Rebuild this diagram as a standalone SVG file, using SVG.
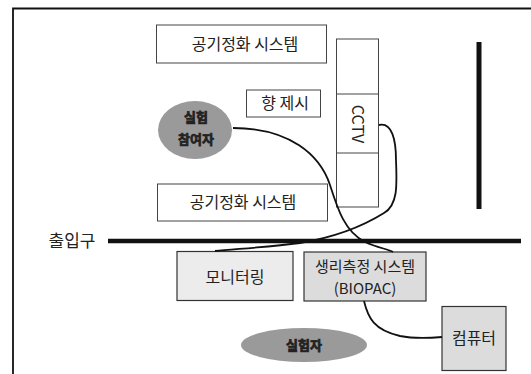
<svg xmlns="http://www.w3.org/2000/svg" width="531" height="374" viewBox="0 0 531 374">
<style>
.box{fill:#fff;stroke:#444;stroke-width:1}
.shade{fill:#ececec;stroke:#333;stroke-width:1.2}
.dark{fill:#dcdcdc;stroke:#333;stroke-width:1.2}
.t{font-family:"Noto Sans CJK KR","Liberation Sans",sans-serif;font-size:16px;fill:#222;text-anchor:middle}
.b{font-family:"Noto Sans CJK KR","Liberation Sans",sans-serif;font-size:13px;font-weight:bold;fill:#222;stroke:#222;stroke-width:0.7;text-anchor:middle}
.ell{fill:#9a9a9a}
.wire{fill:none;stroke:#111;stroke-width:1.8}
</style>
<rect width="531" height="374" fill="#fff"/>
<g id="frame">
<path d="M13 374 V8.5 H531" fill="none" stroke="#111" stroke-width="1.8"/>
</g>
<g id="walls">
<line x1="108" y1="241" x2="521" y2="241" stroke="#111" stroke-width="4.5"/>
<line x1="479" y1="42" x2="479" y2="209" stroke="#111" stroke-width="5"/>
<text class="t" x="72" y="247" style="font-size:17px">출입구</text>
</g>
<g id="air-top">
<rect class="box" x="156.5" y="25" width="170" height="38"/>
<text class="t" x="245" y="50">공기정화 시스템</text>
</g>
<g id="cctv">
<rect class="box" x="336.5" y="39" width="42" height="168"/>
<line x1="336.5" y1="94" x2="378.5" y2="94" stroke="#444"/>
<line x1="336.5" y1="153" x2="378.5" y2="153" stroke="#444"/>
<text class="t" transform="translate(351.5 124) rotate(90)" x="0" y="0">CCTV</text>
</g>
<g id="scent">
<rect class="box" x="246.5" y="90" width="74" height="27"/>
<text class="t" x="285" y="109">향 제시</text>
</g>
<g id="participant">
<ellipse class="ell" cx="195" cy="130" rx="37" ry="29"/>
<text class="b" x="196" y="122">실험</text>
<text class="b" x="196" y="144">참여자</text>
</g>
<g id="air-bottom">
<rect class="box" x="157.5" y="184" width="170" height="37"/>
<text class="t" x="243" y="208">공기정화 시스템</text>
</g>
<g id="monitoring">
<rect class="shade" x="177" y="251.5" width="116" height="49"/>
<text class="t" x="235" y="283">모니터링</text>
</g>
<g id="biopac">
<rect class="dark" x="304" y="252" width="122" height="49"/>
<text class="t" x="365" y="272" style="font-size:15px">생리측정 시스템</text>
<text class="t" x="365" y="294" style="font-size:15px">(BIOPAC)</text>
</g>
<g id="computer">
<rect class="dark" x="442" y="306.5" width="64" height="64"/>
<text class="t" x="474" y="344">컴퓨터</text>
</g>
<g id="experimenter">
<ellipse class="ell" cx="304" cy="345" rx="63" ry="17"/>
<text class="b" x="304" y="350">실험자</text>
</g>
<g id="connectors">
<path class="wire" d="M233 128 C290 128 320 155 330 185 C338 210 345 232 365 242 C378 248 388 249 393 252"/>
<path class="wire" d="M379 125 C392 122 396 140 396 160 C397 185 398 205 384 213 C360 228 330 238 300 243 C270 247 235 249 215 251"/>
<path class="wire" d="M364 301 C368 318 374 330 400 336 C415 339 430 338 442 337"/>
</g>
</svg>
